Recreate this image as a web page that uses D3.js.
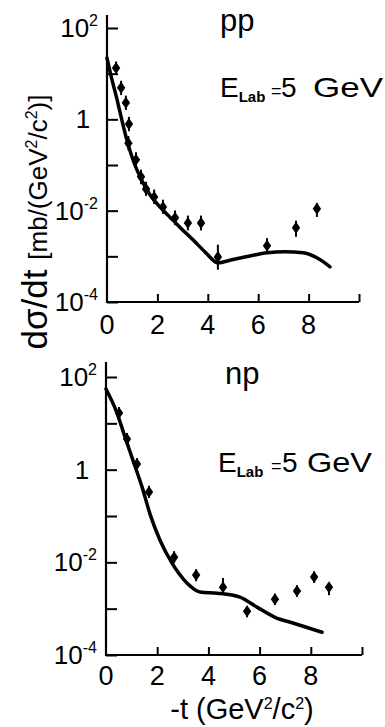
<!DOCTYPE html>
<html>
<head>
<meta charset="utf-8">
<script src="https://cdn.jsdelivr.net/npm/d3@7"></script>
<style>
  body { margin: 0; background: #fff; }
  text { font-family: "Liberation Sans", Arial, sans-serif; fill: #000; }
</style>
</head>
<body>
<svg id="chart" width="385" height="727"></svg>
<script>
// values (-t in GeV^2/c^2, dsigma/dt in mb/(GeV^2/c^2))
var ppT  = [0.36, 0.56, 0.75, 0.85, 0.87, 1.15, 1.35, 1.55, 1.87, 2.22, 2.70, 3.21, 3.73, 4.40, 6.35, 7.50, 8.33];
var ppY  = [13.3, 4.9, 2.3, 0.30, 0.79, 0.13, 0.055, 0.030, 0.020, 0.0121, 0.0070, 0.0054, 0.0054, 0.00097, 0.0017, 0.0042, 0.011];
var ppLo = [9.5, 3.4, 1.6, 0.21, 0.55, 0.09, 0.038, 0.021, 0.014, 0.0085, 0.0048, 0.0037, 0.0037, 0.00051, 0.00126, 0.0027, 0.0073];
var ppHi = [18.5, 7.0, 3.3, 0.43, 1.13, 0.19, 0.079, 0.043, 0.029, 0.0174, 0.0101, 0.0078, 0.0078, 0.0018, 0.0025, 0.0060, 0.0148];

var ppCurveT = [0, 0.2, 0.4, 0.56, 0.79, 1.03, 1.31, 1.71, 2.10, 2.5, 2.9, 3.41, 3.89, 4.40, 4.96, 5.67, 6.35, 7.06, 7.78, 8.33, 8.85];
var ppCurveY = [22, 7.3, 2.7, 1.13, 0.35, 0.13, 0.055, 0.022, 0.0121, 0.0072, 0.0043, 0.0023, 0.00125, 0.00072, 0.00084, 0.00102, 0.0012, 0.00126, 0.0012, 0.00093, 0.00059];

var npT  = [0.51, 0.82, 1.21, 1.68, 2.66, 3.52, 4.57, 5.51, 6.60, 7.46, 8.13, 8.71];
var npY  = [16.7, 4.6, 1.32, 0.33, 0.0129, 0.0053, 0.0029, 0.00088, 0.0016, 0.0024, 0.0048, 0.0029];
var npLo = [12.5, 3.4, 0.98, 0.245, 0.0096, 0.0039, 0.00216, 0.00065, 0.0012, 0.0018, 0.0036, 0.00196];
var npHi = [22.5, 6.2, 1.78, 0.45, 0.0174, 0.0071, 0.0046, 0.00113, 0.0021, 0.0032, 0.0064, 0.0036];

var npCurveT = [0, 0.43, 0.74, 1.05, 1.41, 1.72, 2.11, 2.58, 3.16, 3.67, 4.34, 5.23, 5.90, 6.60, 7.30, 8.44];
var npCurveY = [55, 16.7, 5.1, 1.61, 0.42, 0.11, 0.030, 0.0096, 0.0036, 0.0023, 0.00216, 0.00177, 0.00108, 0.00065, 0.00049, 0.00031];

var xTicks = [2, 4, 6, 8, 10];
var xTickLabels = [0, 2, 4, 6, 8];
var yTicks = [1e-4, 1e-3, 1e-2, 1e-1, 1, 10, 100];
var yTickLabels = [
  { v: 100, base: "10", exp: "2" },
  { v: 1, base: "1", exp: "" },
  { v: 0.01, base: "10", exp: "-2" },
  { v: 1e-4, base: "10", exp: "-4" }
];

var panels = [
  { name: "pp", t: ppT, y: ppY, lo: ppLo, hi: ppHi, ct: ppCurveT, cy: ppCurveY,
    x0: 107, x1: 359, yTop: 28, yBot: 302, axisTop: 15, tickLabY: 334,
    nameX: 220, nameY: 31, eX: 220, eY: 97, eqX: 271, fiveX: 281, gevX: 313, gevW: 70 },
  { name: "np", t: npT, y: npY, lo: npLo, hi: npHi, ct: npCurveT, cy: npCurveY,
    x0: 106, x1: 362, yTop: 377, yBot: 655, axisTop: 362, tickLabY: 685,
    nameX: 225, nameY: 384, eX: 218, eY: 472, eqX: 271, fiveX: 282, gevX: 307, gevW: 65 }
];

var svg = d3.select("#chart");

panels.forEach(function(p) {
  var x = d3.scaleLinear().domain([0, 10]).range([p.x0, p.x1]),
    y = d3.scaleLog().domain([1e-4, 1e2]).range([p.yBot, p.yTop]);

  var g = svg.append("g");

  // axes: ticks point inward
  g.append("g")
    .attr("transform", "translate(" + x(0) + ",0)")
    .call(d3.axisLeft(y).tickValues(yTicks).tickSize(-11).tickSizeOuter(0).tickFormat(""))
    .call(function(a) { a.select(".domain").remove(); })
    .selectAll("line").attr("stroke", "#000").attr("stroke-width", 2);

  g.append("g")
    .attr("transform", "translate(0," + y(1e-4) + ")")
    .call(d3.axisBottom(x).tickValues(xTicks).tickSize(-8).tickSizeOuter(0).tickFormat(""))
    .call(function(a) { a.select(".domain").remove(); })
    .selectAll("line").attr("stroke", "#000").attr("stroke-width", 2);

  g.append("path")
    .attr("d", "M" + x(0) + "," + p.axisTop + "V" + y(1e-4) + "H" + x(10))
    .attr("fill", "none")
    .attr("stroke", "#000")
    .attr("stroke-width", 2.2);

  // tick labels
  g.selectAll(".xl")
    .data(xTickLabels)
    .enter().append("text")
    .attr("x", function(d) { return x(d); })
    .attr("y", p.tickLabY)
    .attr("text-anchor", "middle")
    .style("font-size", "27px")
    .text(function(d) { return d; });

  var yl = g.selectAll(".yl")
    .data(yTickLabels)
    .enter().append("text")
    .attr("x", function(d) { return d.exp ? x(0) - 9 : x(0) - 24; })
    .attr("y", function(d) { return y(d.v) + 9; })
    .attr("text-anchor", function(d) { return d.exp ? "end" : "middle"; })
    .style("font-size", "26px");
  yl.append("tspan").text(function(d) { return d.base; });
  yl.append("tspan")
    .attr("dy", -11)
    .style("font-size", "16px")
    .text(function(d) { return d.exp; });

  // theory curve
  var line = d3.line()
    .x(function(d) { return x(d[0]); })
    .y(function(d) { return y(d[1]); })
    .curve(d3.curveMonotoneX);

  g.append("path")
    .datum(p.ct.map(function(t, i) { return [t, p.cy[i]]; }))
    .attr("d", line)
    .attr("fill", "none")
    .attr("stroke", "#000")
    .attr("stroke-width", 3.5)
    .attr("stroke-linecap", "round");

  // data points with error bars
  var pts = p.t.map(function(t, i) { return { t: t, y: p.y[i], lo: p.lo[i], hi: p.hi[i] }; });

  g.selectAll(".err")
    .data(pts)
    .enter().append("line")
    .attr("x1", function(d) { return x(d.t); })
    .attr("x2", function(d) { return x(d.t); })
    .attr("y1", function(d) { return y(d.lo); })
    .attr("y2", function(d) { return y(d.hi); })
    .attr("stroke", "#000")
    .attr("stroke-width", 2);

  g.selectAll(".pt")
    .data(pts)
    .enter().append("path")
    .attr("d", "M0,-6L4.2,0L0,6L-4.2,0Z")
    .attr("transform", function(d) { return "translate(" + x(d.t) + "," + y(d.y) + ")"; })
    .attr("fill", "#000");

  // panel labels
  g.append("text")
    .attr("x", p.nameX)
    .attr("y", p.nameY)
    .style("font-size", "31px")
    .text(p.name);

  var e = g.append("text")
    .attr("y", p.eY)
    .style("font-size", "28px");
  e.append("tspan").attr("x", p.eX).text("E");
  e.append("tspan").attr("dy", 5).style("font-size", "15px").style("font-weight", "bold").text("Lab");
  e.append("tspan").attr("x", p.eqX).attr("dy", -5).style("font-size", "18px").text("=");
  e.append("tspan").attr("x", p.fiveX).text("5");
  e.append("tspan").attr("x", p.gevX)
    .attr("textLength", p.gevW).attr("lengthAdjust", "spacingAndGlyphs")
    .text("GeV");
});

// axis titles
var yt = svg.append("text")
  .attr("transform", "translate(47,222) rotate(-90)")
  .attr("text-anchor", "middle");
yt.append("tspan").style("font-size", "35px").text("dσ/dt ");
yt.append("tspan").style("font-size", "26px").text("[mb/(GeV");
yt.append("tspan").attr("dy", -10).style("font-size", "16px").text("2");
yt.append("tspan").attr("dy", 10).style("font-size", "26px").text("/c");
yt.append("tspan").attr("dy", -10).style("font-size", "16px").text("2");
yt.append("tspan").attr("dy", 10).style("font-size", "26px").text(")]");

var xt = svg.append("text")
  .attr("x", 242)
  .attr("y", 719)
  .attr("text-anchor", "middle");
xt.append("tspan").style("font-size", "29px").text("-t (GeV");
xt.append("tspan").attr("dy", -10).style("font-size", "16px").text("2");
xt.append("tspan").attr("dy", 10).style("font-size", "29px").text("/c");
xt.append("tspan").attr("dy", -10).style("font-size", "16px").text("2");
xt.append("tspan").attr("dy", 10).style("font-size", "29px").text(")");
</script>
</body>
</html>
